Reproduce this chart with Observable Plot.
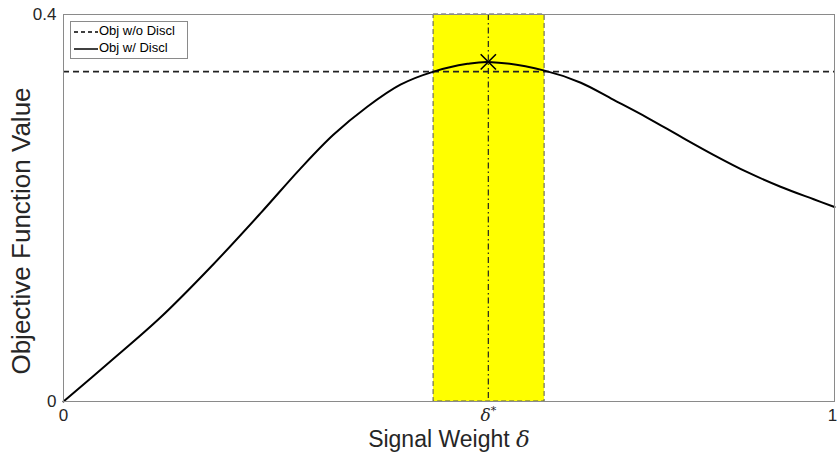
<!DOCTYPE html>
<html>
<head>
<meta charset="utf-8">
<script src="https://cdn.jsdelivr.net/npm/d3@7"></script>
<script src="https://cdn.jsdelivr.net/npm/@observablehq/plot@0.6"></script>
<style>
  body { margin: 0; background: #fff; }
  #wrap { position: relative; width: 837px; height: 459px; font-family: "Liberation Sans", Arial, sans-serif; }
  #legend { position: absolute; left: 70px; top: 21px; width: 116px; height: 36px; border: 1px solid #8a8a8a; background: #fff; font-size: 13px; color: #000; }
  #legend .row { position: absolute; left: 2px; height: 16px; line-height: 16px; white-space: nowrap; }
  #legend svg { vertical-align: middle; }
</style>
</head>
<body>
<div id="wrap"></div>
<script>
// ---- data ----
const signalWeight = [0, 0.061, 0.126, 0.191, 0.256, 0.307, 0.350, 0.394, 0.437, 0.480, 0.524, 0.551, 0.624, 0.671, 0.713, 0.758, 0.800, 0.843, 0.887, 0.930, 0.973, 1.0];
const objWithDiscl = [0, 0.0415, 0.087, 0.139, 0.195, 0.2405, 0.2757, 0.3047, 0.3275, 0.341, 0.349, 0.351, 0.342, 0.3295, 0.312, 0.293, 0.274, 0.255, 0.237, 0.222, 0.209, 0.201];
const objWithoutDiscl = 0.341;
const deltaStar = 0.551;
const bandLow = 0.48;
const bandHigh = 0.624;
const yTicks = [0, 0.4];
const xTicksLeft = [0, deltaStar];
const xTicksRight = [1];
const legendLabels = ["Obj w/o Discl", "Obj w/ Discl"];

const curve = signalWeight.map((x, i) => ({x, y: objWithDiscl[i]}));
const textColor = "#262626";

const chart = Plot.plot({
  width: 837,
  height: 459,
  marginLeft: 63,
  marginRight: 3,
  marginTop: 14,
  marginBottom: 58,
  style: {fontFamily: '"Liberation Sans", Arial, sans-serif', background: "#fff", color: textColor},
  x: {domain: [0, 1]},
  y: {domain: [0, 0.4]},
  marks: [
    Plot.rect([{x1: bandLow, x2: bandHigh, y1: 0, y2: 0.4}], {x1: "x1", x2: "x2", y1: "y1", y2: "y2", fill: "#ffff00", stroke: "#555", strokeDasharray: "5,3", strokeWidth: 1}),
    Plot.ruleX([deltaStar], {stroke: "#222", strokeWidth: 1.2, strokeDasharray: "6,3,1.5,3"}),
    Plot.ruleY([objWithoutDiscl], {stroke: "#222", strokeWidth: 1.6, strokeDasharray: "6,4"}),
    Plot.line(curve, {x: "x", y: "y", stroke: "#000", strokeWidth: 2, curve: "catmull-rom"}),
    Plot.dot([{x: deltaStar, y: d3.max(objWithDiscl)}], {x: "x", y: "y", symbol: "times", r: 7, stroke: "#000", strokeWidth: 1.6}),
    Plot.frame({stroke: "#8a8a8a", strokeWidth: 1}),
    Plot.axisY({ticks: yTicks, tickSize: 0, tickPadding: 7, fontSize: 17, label: null, tickFormat: d => String(d), fill: textColor}),
    Plot.axisX({ticks: xTicksLeft, tickSize: 0, tickPadding: 7, fontSize: 17, label: null, tickFormat: d => d === deltaStar ? "δ*" : String(d), fill: textColor}),
    Plot.axisX({ticks: xTicksRight, tickSize: 0, tickPadding: 7, fontSize: 17, label: null, tickFormat: d => String(d), fill: textColor, dx: -2}),
    Plot.text(["Objective Function Value"], {frameAnchor: "left", rotate: -90, dx: -42, dy: 23, fontSize: 26, fill: textColor, textAnchor: "middle"}),
    Plot.text(["Signal Weight δ"], {frameAnchor: "bottom", dy: 45, fontSize: 23, fill: textColor})
  ]
});

document.getElementById("wrap").appendChild(chart);

// style delta glyphs as italic serif
d3.select(chart).selectAll("text").each(function() {
  const t = d3.select(this);
  const s = t.text();
  if (s === "δ*") {
    t.text(null);
    t.append("tspan").attr("font-family", "DejaVu Serif, serif").attr("font-style", "italic").attr("font-size", 17).text("δ");
    t.append("tspan").attr("font-family", "DejaVu Serif, serif").attr("font-size", 11).attr("dy", "-0.6em").text("*");
  } else if (s === "Signal Weight δ") {
    t.text(null);
    t.append("tspan").text("Signal Weight ");
    t.append("tspan").attr("font-family", "DejaVu Serif, serif").attr("font-style", "italic").text("δ");
  }
});

// legend
const legend = d3.select("#wrap").append("div").attr("id", "legend");
const styles = [{dash: "4,3"}, {dash: null}];
legendLabels.forEach((lab, i) => {
  const row = legend.append("div").attr("class", "row").style("top", (i === 0 ? 1 : 18) + "px");
  const sv = row.append("svg").attr("width", 26).attr("height", 10);
  const ln = sv.append("line").attr("x1", 1).attr("x2", 25).attr("y1", 5).attr("y2", 5).attr("stroke", "#000").attr("stroke-width", 1.5);
  if (styles[i].dash) ln.attr("stroke-dasharray", styles[i].dash);
  row.append("span").text(lab);
});
</script>
</body>
</html>
